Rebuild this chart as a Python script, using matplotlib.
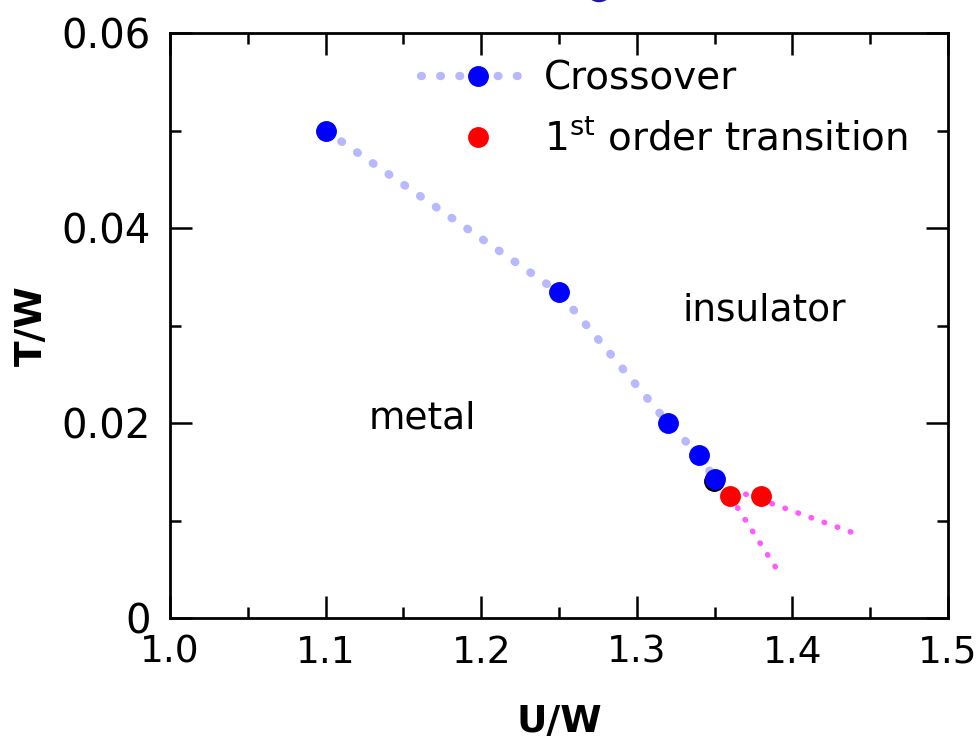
import matplotlib
matplotlib.use("Agg")
import matplotlib.pyplot as plt
from matplotlib.ticker import MultipleLocator, FixedLocator
from matplotlib.lines import Line2D
from matplotlib.patches import Ellipse
import matplotlib.transforms as mtransforms

# Data
crossover_u = [1.10, 1.25, 1.32, 1.34, 1.35]
crossover_t = [0.0500, 0.0334, 0.0200, 0.0167, 0.0143]
first_order_u = [1.36, 1.38]
first_order_t = [0.0125, 0.0125]
spinodal1_u = [1.36, 1.39]
spinodal1_t = [0.0125, 0.0050]
spinodal2_u = [1.37, 1.445]
spinodal2_t = [0.0127, 0.0084]
x_ticks = [1.0, 1.1, 1.2, 1.3, 1.4, 1.5]
y_ticks = [0.0, 0.02, 0.04, 0.06]
y_tick_labels = ["0", "0.02", "0.04", "0.06"]

plt.rcParams['font.family'] = ['DejaVu Sans']
fig = plt.figure(figsize=(9.8, 7.4), dpi=100)
ax = fig.add_axes([170/980, 1-618/740, 778/980, 585/740])

light_blue = (0.72, 0.72, 1.0)
magenta = (1.0, 0.35, 1.0)

ax.plot(crossover_u, crossover_t, linestyle=(0, (0.1, 2.2)), linewidth=6,
        dash_capstyle='round', color=light_blue, zorder=2)
ax.plot(spinodal1_u, spinodal1_t, linestyle=(0, (0.1, 2.4)), linewidth=4,
        dash_capstyle='round', color=magenta, zorder=2)
ax.plot(spinodal2_u, spinodal2_t, linestyle=(0, (0.1, 2.4)), linewidth=4,
        dash_capstyle='round', color=magenta, zorder=2)
shadow = ax.transData + mtransforms.ScaledTranslation(-1/100, -2/100, fig.dpi_scale_trans)
ax.plot(crossover_u[-1:], crossover_t[-1:], 'o', ms=14, color='black',
        transform=shadow, zorder=3)
ax.plot(crossover_u, crossover_t, 'o', ms=14, color='#0000ff', zorder=4)
ax.plot(first_order_u, first_order_t, 'o', ms=14, color='#ff0000', zorder=4)

ax.set_xlim(1.0, 1.5)
ax.set_ylim(0, 0.06)
ax.xaxis.set_major_locator(FixedLocator(x_ticks))
ax.xaxis.set_minor_locator(MultipleLocator(0.05))
ax.yaxis.set_major_locator(FixedLocator(y_ticks))
ax.yaxis.set_minor_locator(MultipleLocator(0.01))
ax.set_yticklabels(y_tick_labels)
ax.set_xticklabels([f"{v:.1f}" for v in x_ticks])
ax.tick_params(which='both', direction='in', top=True, right=True, width=1.8)
ax.tick_params(which='major', length=16)
ax.tick_params(which='minor', length=8)
ax.tick_params(axis='x', labelsize=27, pad=12)
ax.tick_params(axis='y', labelsize=29, pad=14)
for s in ax.spines.values():
    s.set_linewidth(2)

ax.set_xlabel("U/W", fontsize=27, fontweight='bold', labelpad=24)
ax.set_ylabel("T/W", fontsize=27, fontweight='bold', labelpad=8)

ax.text(1.1625, 0.0205, "metal", fontsize=27, ha='center', va='center')
ax.text(1.382, 0.0315, "insulator", fontsize=27, ha='center', va='center')

# Legend
h1 = (Line2D([], [], linestyle=(0, (0.1, 2.2)), linewidth=6, dash_capstyle='round',
             color=light_blue),
      Line2D([], [], marker='o', ms=14, color='#0000ff', linestyle='none'))
h2 = Line2D([], [], marker='o', ms=14, color='#ff0000', linestyle='none')
leg = ax.legend([h1, h2], ["Crossover", r"1$^{\mathrm{st}}$ order transition"],
                loc='upper left', bbox_to_anchor=(0.278, 1.015), frameon=False,
                fontsize=28, handlelength=2.9, handletextpad=0.25, labelspacing=0.6)

# partially visible mark at the top edge of the figure
fig.patches.append(Ellipse((5.99, 7.495), 0.22, 0.2, transform=fig.dpi_scale_trans,
                           fill=False, edgecolor='#1a1a9a', linewidth=2.5))

fig.savefig("out.png", dpi=100)
